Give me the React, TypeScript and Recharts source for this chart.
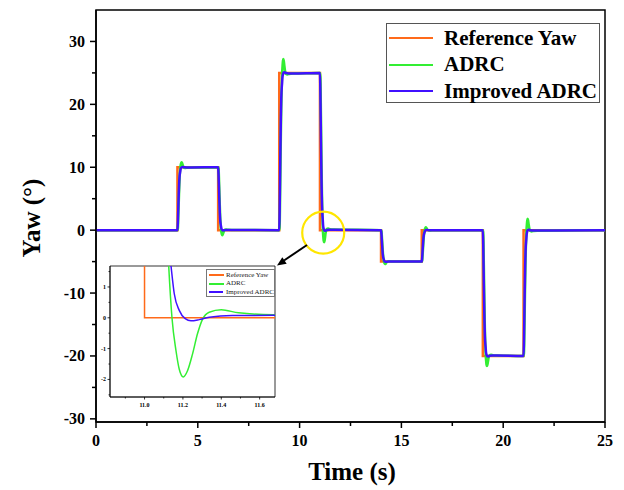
import React from 'react';
import { LineChart, Line, XAxis, YAxis, Legend, ReferenceArea, ReferenceDot } from 'recharts';

const SERIF = "'Liberation Serif', 'Times New Roman', serif";

const ORANGE = '#FF6A1A';
const GREEN = '#33EE33';
const BLUE = '#4010FF';

const seriesNames = ['Reference Yaw', 'ADRC', 'Improved ADRC'];

// tick positions
const xTicks = [0, 2.5, 5, 7.5, 10, 12.5, 15, 17.5, 20, 22.5, 25];
const yTicks = [-30, -25, -20, -15, -10, -5, 0, 5, 10, 15, 20, 25, 30];
const insetXTicks = [10.9, 11.0, 11.1, 11.2, 11.3, 11.4, 11.5, 11.6];
const insetYTicks = [-2.5, -2, -1.5, -1, -0.5, 0, 0.5, 1, 1.5];

// reference yaw (step commands)
const refTime = [0, 4, 4, 6, 6, 9, 9, 11, 11, 14, 14, 16, 16, 19, 19, 21, 21, 25];
const refYaw = [0, 0, 10, 10, 0, 0, 25, 25, 0, 0, -5, -5, 0, 0, -20, -20, 0, 0];

// ADRC response [t, yaw]
const adrcPoints: [number, number][] = [
  [0, 0],
  [4, 0], [4.02, 0.2], [4.05, 2.8], [4.08, 6.0], [4.1, 7.8], [4.126, 9.33], [4.143, 10], [4.164, 10.43], [4.181, 10.67], [4.202, 10.8], [4.224, 10.69], [4.25, 10.47], [4.276, 10.21], [4.302, 10.02], [4.337, 9.93], [4.4, 9.9], [4.49, 9.94], [4.67, 9.96],
  [6, 10], [6.02, 9.8], [6.05, 7.2], [6.08, 4.0], [6.1, 2.2], [6.126, 0.67], [6.143, 0], [6.164, -0.43], [6.181, -0.67], [6.202, -0.8], [6.224, -0.69], [6.25, -0.47], [6.276, -0.21], [6.302, -0.02], [6.337, 0.07], [6.4, 0.1], [6.49, 0.06], [6.67, 0.04],
  [9, 0], [9.02, 0.5], [9.05, 7], [9.08, 15], [9.1, 19.5], [9.126, 23.32], [9.143, 25], [9.164, 26.2], [9.181, 26.9], [9.202, 27.2], [9.224, 26.9], [9.25, 26.2], [9.276, 25.52], [9.302, 25.05], [9.337, 24.82], [9.4, 24.74], [9.49, 24.84], [9.67, 24.9],
  [11, 25], [11.02, 24.5], [11.05, 18], [11.08, 10], [11.1, 5.5], [11.126, 1.68], [11.143, 0], [11.164, -1.07], [11.181, -1.67], [11.202, -1.92], [11.224, -1.72], [11.25, -1.18], [11.276, -0.52], [11.302, -0.05], [11.337, 0.18], [11.4, 0.26], [11.49, 0.16], [11.67, 0.1],
  [14, 0], [14.02, -0.1], [14.05, -1.4], [14.08, -3.0], [14.1, -3.9], [14.126, -4.67], [14.143, -5], [14.164, -5.22], [14.181, -5.33], [14.202, -5.4], [14.224, -5.35], [14.25, -5.23], [14.276, -5.1], [14.302, -5.01], [14.337, -4.97], [14.4, -4.95], [14.49, -4.97], [14.67, -4.98],
  [16, -5], [16.02, -4.9], [16.05, -3.6], [16.08, -2.0], [16.1, -1.1], [16.126, -0.33], [16.143, 0], [16.164, 0.25], [16.181, 0.4], [16.202, 0.45], [16.224, 0.38], [16.25, 0.23], [16.276, 0.1], [16.302, 0.01], [16.337, -0.03], [16.4, -0.05], [16.49, -0.03], [16.67, -0.02],
  [19, 0], [19.02, -0.4], [19.05, -5.6], [19.08, -12], [19.1, -15.6], [19.126, -18.66], [19.143, -20], [19.164, -20.9], [19.181, -21.4], [19.202, -21.6], [19.224, -21.4], [19.25, -20.94], [19.276, -20.42], [19.302, -20.04], [19.337, -19.86], [19.4, -19.8], [19.49, -19.88], [19.67, -19.92],
  [21, -20], [21.02, -19.6], [21.05, -14.4], [21.08, -8], [21.1, -4.4], [21.126, -1.34], [21.143, 0], [21.164, 1.0], [21.181, 1.55], [21.202, 1.8], [21.224, 1.55], [21.25, 0.94], [21.276, 0.42], [21.302, 0.04], [21.337, -0.14], [21.4, -0.2], [21.49, -0.12], [21.67, -0.08],
  [25, 0],
];

// Improved ADRC response [t, yaw]
const improvedPoints: [number, number][] = [
  [0, 0],
  [4, 0], [4.02, 1.2], [4.05, 4.4], [4.08, 7.2], [4.1, 8.4], [4.138, 9.33], [4.155, 9.69], [4.181, 9.9], [4.212, 10.01], [4.242, 10.04], [4.285, 10.02], [4.337, 9.99], [4.457, 9.97], [4.67, 9.97],
  [6, 10], [6.02, 8.8], [6.05, 5.6], [6.08, 2.8], [6.1, 1.6], [6.138, 0.67], [6.155, 0.31], [6.181, 0.1], [6.212, -0.01], [6.242, -0.04], [6.285, -0.02], [6.337, 0.01], [6.457, 0.03], [6.67, 0.03],
  [9, 0], [9.02, 3], [9.05, 11], [9.08, 18], [9.1, 21], [9.138, 23.32], [9.155, 24.22], [9.181, 24.75], [9.212, 25.03], [9.242, 25.1], [9.285, 25.06], [9.337, 24.98], [9.457, 24.92], [9.67, 24.92],
  [11, 25], [11.02, 22], [11.05, 14], [11.08, 7], [11.1, 4], [11.138, 1.68], [11.155, 0.78], [11.181, 0.24], [11.212, -0.03], [11.242, -0.1], [11.285, -0.06], [11.337, 0.02], [11.457, 0.075], [11.67, 0.08],
  [14, 0], [14.02, -0.6], [14.05, -2.2], [14.08, -3.6], [14.1, -4.2], [14.138, -4.67], [14.155, -4.85], [14.181, -4.95], [14.212, -5.01], [14.242, -5.02], [14.285, -5.01], [14.337, -5.0], [14.457, -4.98], [14.67, -4.98],
  [16, -5], [16.02, -4.4], [16.05, -2.8], [16.08, -1.4], [16.1, -0.8], [16.138, -0.33], [16.155, -0.16], [16.181, -0.05], [16.212, 0.01], [16.242, 0.02], [16.285, 0.01], [16.337, 0], [16.457, -0.02], [16.67, -0.02],
  [19, 0], [19.02, -2.4], [19.05, -8.8], [19.08, -14.4], [19.1, -16.8], [19.138, -18.66], [19.155, -19.38], [19.181, -19.8], [19.212, -20.02], [19.242, -20.08], [19.285, -20.05], [19.337, -19.98], [19.457, -19.94], [19.67, -19.94],
  [21, -20], [21.02, -17.6], [21.05, -11.2], [21.08, -5.6], [21.1, -3.2], [21.138, -1.34], [21.155, -0.62], [21.181, -0.2], [21.212, 0.02], [21.242, 0.08], [21.285, 0.05], [21.337, -0.02], [21.457, -0.06], [21.67, -0.06],
  [25, 0],
];

const refData = refTime.map((t, i) => ({ t, v: refYaw[i] }));
const adrcData = adrcPoints.map(([t, v]) => ({ t, v }));
const improvedData = improvedPoints.map(([t, v]) => ({ t, v }));

const ordered = (payload: any[]) =>
  seriesNames.map((n) => payload.find((p: any) => p.value === n)).filter(Boolean);

const MainXTick = (props: any) => {
  const { x, y, payload } = props;
  const major = Math.abs(payload.value % 5) < 1e-6;
  return (
    <g>
      <line x1={x} x2={x} y1={y} y2={y + (major ? 6 : 4)} stroke="#000" strokeWidth={1.5} />
      {major && (
        <text x={x} y={y + 24} textAnchor="middle" fontSize={16} fontWeight="bold" fontFamily={SERIF} fill="#000">
          {payload.value}
        </text>
      )}
    </g>
  );
};

const MainYTick = (props: any) => {
  const { x, y, payload } = props;
  const major = Math.abs(payload.value % 10) < 1e-6;
  return (
    <g>
      <line x1={x} x2={x - (major ? 6 : 4)} y1={y} y2={y} stroke="#000" strokeWidth={1.5} />
      {major && (
        <text x={x - 11} y={y + 5.5} textAnchor="end" fontSize={16} fontWeight="bold" fontFamily={SERIF} fill="#000">
          {payload.value}
        </text>
      )}
    </g>
  );
};

const InsetXTick = (props: any) => {
  const { x, y, payload } = props;
  const major = Math.round(payload.value * 10) % 2 === 0;
  return (
    <g>
      <line x1={x} x2={x} y1={y} y2={y + (major ? 2.5 : 1.5)} stroke="#000" strokeWidth={0.8} />
      {major && (
        <text x={x} y={y + 10} textAnchor="middle" fontSize={6} fontWeight="bold" fontFamily={SERIF} fill="#000">
          {payload.value.toFixed(1)}
        </text>
      )}
    </g>
  );
};

const InsetYTick = (props: any) => {
  const { x, y, payload } = props;
  const major = Number.isInteger(payload.value);
  return (
    <g>
      <line x1={x} x2={x - (major ? 2.5 : 1.5)} y1={y} y2={y} stroke="#000" strokeWidth={0.8} />
      {major && (
        <text x={x - 4} y={y + 2} textAnchor="end" fontSize={6} fontWeight="bold" fontFamily={SERIF} fill="#000">
          {payload.value}
        </text>
      )}
    </g>
  );
};

const MainLegend = (props: any) => {
  const items = ordered(props.payload || []);
  return (
    <div style={{ width: 214, height: 80, border: '1px solid #555', background: '#fff', boxSizing: 'border-box', paddingTop: 1 }}>
      {items.map((it: any) => (
        <div key={it.value} style={{ display: 'flex', alignItems: 'center', height: 26.5 }}>
          <span style={{ display: 'inline-block', width: 44, height: 2, background: it.color, marginLeft: 2, marginRight: 11 }} />
          <span style={{ fontFamily: SERIF, fontWeight: 'bold', fontSize: 21, color: '#000', lineHeight: '21px' }}>{it.value}</span>
        </div>
      ))}
    </div>
  );
};

const InsetLegend = (props: any) => {
  const items = ordered(props.payload || []);
  return (
    <div style={{ width: 69, height: 28, border: '0.6px solid #777', background: '#fff', boxSizing: 'border-box', paddingTop: 1 }}>
      {items.map((it: any) => (
        <div key={it.value} style={{ display: 'flex', alignItems: 'center', height: 8.5 }}>
          <span style={{ display: 'inline-block', width: 15, height: 2, background: it.color, marginLeft: 1.5, marginRight: 2.5 }} />
          <span style={{ fontFamily: SERIF, fontSize: 7, color: '#222', lineHeight: '7px', whiteSpace: 'nowrap' }}>{it.value}</span>
        </div>
      ))}
    </div>
  );
};

const App: React.FC = () => {
  return (
    <div style={{ position: 'absolute', left: 0, top: 0, width: 624, height: 490, background: '#fff' }}>
      <LineChart width={624} height={490} margin={{ top: 10, right: 19, bottom: 0, left: 0 }}>
        <XAxis
          type="number"
          dataKey="t"
          domain={[0, 25]}
          ticks={xTicks}
          interval={0}
          allowDataOverflow
          height={68}
          tickLine={false}
          tickSize={0}
          tickMargin={0}
          axisLine={{ stroke: '#000', strokeWidth: 1.5 }}
          tick={MainXTick}
        />
        <YAxis
          type="number"
          domain={[-30.5, 35]}
          ticks={yTicks}
          interval={0}
          allowDataOverflow
          width={96}
          tickLine={false}
          tickSize={0}
          tickMargin={0}
          axisLine={{ stroke: '#000', strokeWidth: 1.5 }}
          tick={MainYTick}
        />
        <ReferenceArea x1={0} x2={25} y1={-30.5} y2={35} fill="none" stroke="#000" strokeWidth={1.5} />
        <Line data={refData} dataKey="v" name="Reference Yaw" type="linear" stroke={ORANGE} strokeWidth={2.5} dot={false} isAnimationActive={false} />
        <Line data={adrcData} dataKey="v" name="ADRC" type="monotone" stroke={GREEN} strokeWidth={2.5} dot={false} isAnimationActive={false} />
        <Line data={improvedData} dataKey="v" name="Improved ADRC" type="monotone" stroke={BLUE} strokeWidth={2.5} dot={false} isAnimationActive={false} />
        <ReferenceDot x={11.16} y={-0.4} r={21} fill="none" stroke="#FFE600" strokeWidth={2.2} />
        <Legend
          layout="vertical"
          align="center"
          verticalAlign="middle"
          content={MainLegend}
          wrapperStyle={{ left: 386, top: 23, width: 214, height: 80 }}
        />
      </LineChart>

      {/* zoomed inset around t = 11 s */}
      <div style={{ position: 'absolute', left: 98, top: 265, width: 178, height: 146, background: '#fff' }}>
        <LineChart width={178} height={146} margin={{ top: 1, right: 1, bottom: 0, left: 0 }}>
          <XAxis
            type="number"
            dataKey="t"
            domain={[10.82, 11.68]}
            ticks={insetXTicks}
            interval={0}
            allowDataOverflow
            height={14}
            tickLine={false}
            tickSize={0}
            tickMargin={0}
            axisLine={{ stroke: '#000', strokeWidth: 0.8 }}
            tick={InsetXTick}
          />
          <YAxis
            type="number"
            domain={[-2.57, 1.68]}
            ticks={insetYTicks}
            interval={0}
            allowDataOverflow
            width={12}
            tickLine={false}
            tickSize={0}
            tickMargin={0}
            axisLine={{ stroke: '#000', strokeWidth: 0.8 }}
            tick={InsetYTick}
          />
          <ReferenceArea x1={10.82} x2={11.68} y1={-2.57} y2={1.68} fill="none" stroke="#000" strokeWidth={0.8} />
          <Line data={refData} dataKey="v" name="Reference Yaw" type="linear" stroke={ORANGE} strokeWidth={1.5} dot={false} isAnimationActive={false} />
          <Line data={adrcData} dataKey="v" name="ADRC" type="monotone" stroke={GREEN} strokeWidth={1.5} dot={false} isAnimationActive={false} />
          <Line data={improvedData} dataKey="v" name="Improved ADRC" type="monotone" stroke={BLUE} strokeWidth={1.5} dot={false} isAnimationActive={false} />
          <Legend
            layout="vertical"
            align="center"
            verticalAlign="middle"
            content={InsetLegend}
            wrapperStyle={{ left: 108, top: 4, width: 69, height: 28 }}
          />
        </LineChart>
      </div>

      {/* axis titles and arrow */}
      <svg width={624} height={490} style={{ position: 'absolute', left: 0, top: 0, pointerEvents: 'none' }}>
        <text x={352} y={480} textAnchor="middle" fontSize={25} fontWeight="bold" fontFamily={SERIF} fill="#000">
          Time (s)
        </text>
        <text
          x={40}
          y={218}
          textAnchor="middle"
          fontSize={25}
          fontWeight="bold"
          fontFamily={SERIF}
          fill="#000"
          transform="rotate(-90, 40, 218)"
        >
          Yaw (°)
        </text>
        <line x1={307} y1={245} x2={284} y2={260.5} stroke="#000" strokeWidth={2} />
        <polygon points="277,265.5 286.7,263.8 282.3,257.2" fill="#000" />
      </svg>
    </div>
  );
};

export default App;
